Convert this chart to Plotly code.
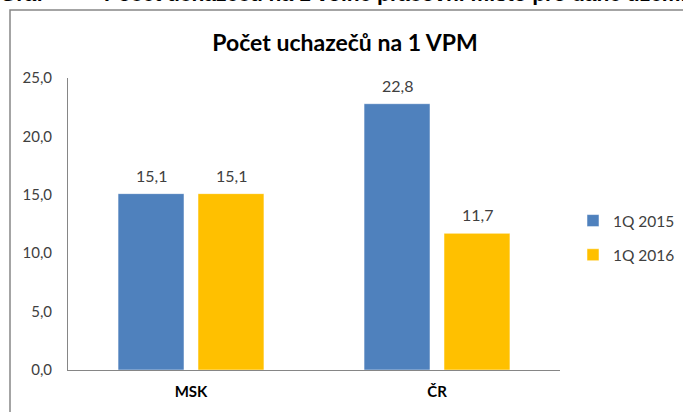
import plotly.graph_objects as go

categories = ["MSK", "ČR"]
series_names = ["1Q 2015", "1Q 2016"]
values_2015 = [15.1, 22.8]
values_2016 = [15.1, 11.7]
colors = ["#4F81BD", "#FFC000"]

FONT = "Lato, Open Sans, sans-serif"
HFONT = "Liberation Sans, Arial, sans-serif"

fig = go.Figure()
all_series = [values_2015, values_2016]
for name, vals, col in zip(series_names, all_series, colors):
    fig.add_trace(go.Bar(
        x=categories, y=vals, name=name, marker_color=col, legendgroup=name,
        marker_line=dict(color="rgba(255,255,255,0.5)", width=1),
        hoverinfo="y",
    ))

annotations = []
slot_px = 80
for si, vals in enumerate(all_series):
    for ci, v in enumerate(vals):
        annotations.append(dict(
            x=categories[ci], y=v, xref="x", yref="y",
            text=("%.1f" % v).replace(".", ","),
            showarrow=False, yanchor="bottom", yshift=7,
            xshift=(si - 0.5) * slot_px,
            font=dict(size=16, color="#404040", family=FONT)))

annotations += [
    dict(text="<b>Graf</b>", xref="paper", yref="paper",
         x=-70/492, y=1 + 71/292, xanchor="left", yanchor="bottom",
         showarrow=False, font=dict(size=21, color="black", family=HFONT)),
    dict(text="<b>Počet uchazečů na 1 volné pracovní místo pro dané území</b>",
         xref="paper", yref="paper",
         x=34/492, y=1 + 71/292, xanchor="left", yanchor="bottom",
         showarrow=False, font=dict(size=21, color="black", family=HFONT)),
]

fig.update_layout(
    width=683, height=412,
    margin=dict(l=68, r=123, t=78, b=42, autoexpand=False),
    paper_bgcolor="white", plot_bgcolor="white",
    separators=", ",
    barmode="group", bargap=0.35, bargroupgap=0.175,
    font=dict(family=FONT, color="#404040", size=15),
    showlegend=True,
    legend=dict(x=1 + 13/492, y=(370 - 238) / 292, xanchor="left", yanchor="middle",
                font=dict(size=15.5, color="#404040"), traceorder="grouped",
                itemwidth=30, tracegroupgap=11, itemclick=False),
    xaxis=dict(showline=True, linecolor="#868686", linewidth=1,
               tickfont=dict(size=15, color="black", family=FONT),
               ticks="", ticklabelstandoff=8, automargin=False,
               tickvals=categories,
               ticktext=["<b>%s</b>" % c for c in categories]),
    yaxis=dict(range=[0, 25], dtick=5, tickformat=".1f",
               showline=True, linecolor="#868686", linewidth=1,
               showgrid=False, zeroline=False, ticks="", automargin=False,
               tickfont=dict(size=15, color="#404040"),
               ticklabelstandoff=12),
    title=dict(text="<b>Počet uchazečů na 1 VPM</b>", x=(345 - 68) / 492, xref="paper",
               y=1 - 43/412, yref="container", xanchor="center", yanchor="middle",
               font=dict(size=23, color="black", family=FONT)),
    shapes=[dict(type="rect", xref="paper", yref="paper",
                 x0=-58/492, x1=1 + 130/492, y0=-60/292, y1=1 + 68/292,
                 line=dict(color="#868686", width=1.5), fillcolor="rgba(0,0,0,0)")],
    annotations=annotations,
)

fig.write_html("out.html",
               config={"displayModeBar": False},
               post_script="document.body.style.margin='0';document.body.style.overflow='hidden';")
